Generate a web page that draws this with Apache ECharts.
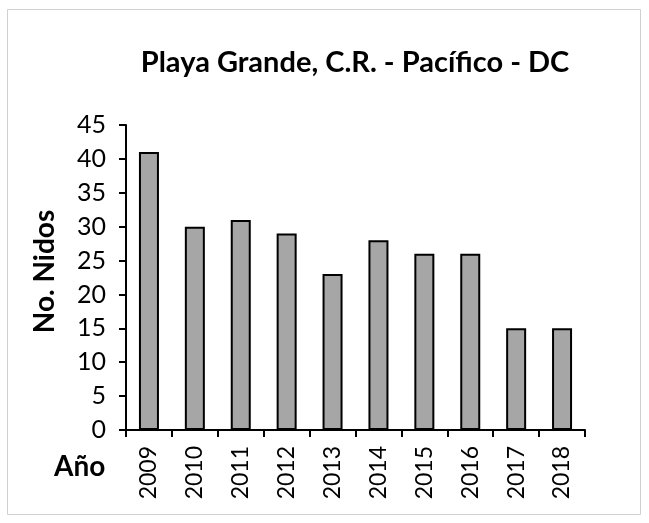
<!DOCTYPE html>
<html>
<head>
<meta charset="utf-8">
<script src="https://cdn.jsdelivr.net/npm/echarts@6/dist/echarts.min.js"></script>
<style>
  html, body { margin: 0; padding: 0; background: #fff; }
  #chart { width: 649px; height: 523px; }
</style>
</head>
<body>
<div id="chart"></div>
<script>
const years = ['2009', '2010', '2011', '2012', '2013', '2014', '2015', '2016', '2017', '2018']
const nests = [41, 30, 31, 29, 23, 28, 26, 26, 15, 15]

const font = 'Lato, "Open Sans", sans-serif'

const chart = echarts.init(document.getElementById('chart'))
chart.setOption({
  animation: false,
  title: {
    text: 'Playa Grande, C.R. - Pacífico - DC',
    left: 350,
    top: 43,
    textAlign: 'center',
    textStyle: { fontFamily: font, fontSize: 29, fontWeight: 'bold', color: '#000' }
  },
  graphic: [
    {
      type: 'rect',
      shape: { x: 7.5, y: 9.5, width: 633, height: 505 },
      style: { fill: 'none', stroke: '#d0d0d0', lineWidth: 1 },
      z: -1
    },
    {
      type: 'text',
      left: 54,
      top: 453,
      style: { text: 'Año', font: 'bold 28px ' + font, fill: '#000' }
    }
  ],
  grid: { left: 126, right: 64, top: 125, bottom: 93 },
  xAxis: {
    type: 'category',
    data: years,
    axisLine: { lineStyle: { color: '#000', width: 2 } },
    axisTick: { show: true, length: 7, lineStyle: { color: '#000', width: 2 } },
    axisLabel: { rotate: 90, margin: 16, color: '#000', fontFamily: font, fontSize: 23 }
  },
  yAxis: {
    type: 'value',
    min: 0,
    max: 45,
    interval: 5,
    name: 'No. Nidos',
    nameLocation: 'middle',
    nameGap: 67,
    nameTextStyle: { fontFamily: font, fontSize: 28, fontWeight: 'bold', color: '#000', padding: [0, 0, 0, 12] },
    axisLine: { show: true, lineStyle: { color: '#000', width: 2 } },
    axisTick: { show: true, length: 7, lineStyle: { color: '#000', width: 2 } },
    splitLine: { show: false },
    axisLabel: { margin: 20, color: '#000', fontFamily: font, fontSize: 25 }
  },
  series: [{
    type: 'bar',
    data: nests,
    barWidth: 20,
    itemStyle: { color: '#a6a6a6', borderColor: '#000', borderWidth: 2 }
  }]
})
</script>
</body>
</html>
